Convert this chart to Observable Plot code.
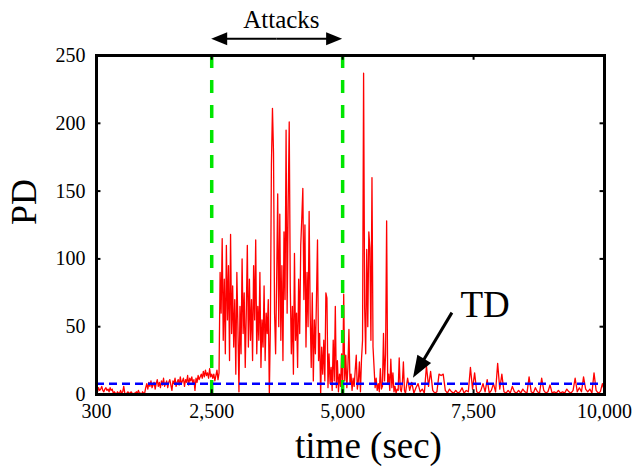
<!DOCTYPE html>
<html><head><meta charset="utf-8">
<script src="https://cdn.jsdelivr.net/npm/d3@7"></script>
<script src="https://cdn.jsdelivr.net/npm/@observablehq/plot@0.6"></script>
<style>body{margin:0;background:#fff}</style>
</head><body><div id="chart"></div>
<script>
// ---- data ----
const preStart = 300, preStep = 20;
const preValues = [4,2,5,3,4,6,3,2,4,5,3,4,2,5,3,4,
  1,2,1,0,2,1,1,3,1,2,6,1,0,1,2,1,1,2,1,0,1,1,2,1,3,1,1,0,2,1,1,
  5,8,4,9,6,10,5,7,9,4,8,11,6,9,5,10,7,12,6,8,10,5,9,11,7,3,10,8,12,6,
  9,11,7,13,8,10,12,6,11,9,14,7,12,10,13,8,11,3,12,9,14,11,13,
  15,12,17,13,18,14,16,12,19,13,15];
const attackStart = 2520, attackStep = 20;
const attackValues = [12,15,10,14,18,11,16,
  90,60,115,40,85,
  30,110,55,95,25,118,45,80,
  35,70,15,90,50,2,65,30,100,45,75,20,
  60,110,35,85,40,70,25,95,55,114,30,
  65,40,90,20,55,35,80,25,60,45,70,0,50,
  170,211,178,60,30,85,148,50,133,40,95,25,120,70,195,60,140,201,80,30,
  65,15,104,40,60,20,85,45,110,130,152,70,125,35,90,50,135,60,20,75,
  10,55,30,70,114,25,45,0,35,15,40,10,75,71,5,30,8,20,3,40,
  10,65,5,25,2,15,6,30,4];
const postStart = 5020, postStep = 20;
const postValues = [74,10,29,5,20,48,
  8,15,3,12,6,18,
  29,4,10,24,2,26,
  40,237,64,30,107,50,120,108,40,160,35,20,
  5,12,3,8,2,19,4,6,
  45,10,30,128,8,15,3,26,5,16,
  2,6,1,4,3,27,4,2,8,24,3,1];
const tailStart = 6240, tailStep = 40;
const tailValues = [12,3,9,1,5,8,2,4,1,21,6,17,3,1,2,15,14,15,3,1,
  4,2,1,3,1,2,5,1,3,2,20,4,16,2,1,3,8,2,11,1,
  3,8,2,23,4,15,2,1,3,1,6,2,1,3,1,4,2,1,13,2,
  1,5,2,1,12,3,1,2,7,1,2,1,3,1,2,1,4,2,1,3,
  12,2,5,2,13,4,2,4,1,16,3,1,2,8,2];

const xTicks = [300, 2500, 5000, 7500, 10000];
const yTicks = [0, 50, 100, 150, 200, 250];
const attackBounds = [2500, 5000];
const attackLabel = "Attacks";
const threshold = 8;      // TD
const tdLabel = "TD";
const tdArrow = [[7096, 60], [6352, 12]];
const tdText = [7249, 66];
const attackArrowY = 262;

const seg = (start, step, vals) => vals.map((v, i) => ({t: start + i * step, v}));
const series = [
  ...seg(preStart, preStep, preValues),
  ...seg(attackStart, attackStep, attackValues),
  ...seg(postStart, postStep, postValues),
  ...seg(tailStart, tailStep, tailValues)
];

const FONT = '"Liberation Serif","Times New Roman",Times,serif';

function drawArrow(g, x0, y0, x1, y1, head, hw, sw) {
  const dx = x1 - x0, dy = y1 - y0, L = Math.hypot(dx, dy);
  const ux = dx / L, uy = dy / L, nx = -uy, ny = ux;
  const bx = x1 - ux * head, by = y1 - uy * head;
  g.append("line").attr("x1", x0).attr("y1", y0).attr("x2", bx + ux).attr("y2", by + uy)
    .attr("stroke", "black").attr("stroke-width", sw);
  g.append("path").attr("d", `M${x1},${y1}L${bx + nx * hw},${by + ny * hw}L${bx - nx * hw},${by - ny * hw}Z`)
    .attr("fill", "black");
}

const attackArrow = (index, scales) => {
  const g = d3.create("svg:g");
  const xa = scales.x(attackBounds[0]), xb = scales.x(attackBounds[1]), y = scales.y(attackArrowY);
  const xm = (xa + xb) / 2;
  drawArrow(g, xm, y, xa, y, 16, 6.5, 2);
  drawArrow(g, xm, y, xb, y, 16, 6.5, 2);
  return g.node();
};
const tdArrowMark = (index, scales) => {
  const g = d3.create("svg:g");
  drawArrow(g, scales.x(tdArrow[0][0]), scales.y(tdArrow[0][1]),
    scales.x(tdArrow[1][0]), scales.y(tdArrow[1][1]), 22, 8, 3);
  return g.node();
};

const chart = Plot.plot({
  width: 634, height: 466,
  marginLeft: 96, marginRight: 30, marginTop: 55, marginBottom: 72,
  style: {fontFamily: FONT, fontSize: "20px", background: "white", color: "black"},
  x: {domain: [300, 10000], ticks: xTicks, tickFormat: d3.format(","), label: null},
  y: {domain: [0, 250], ticks: yTicks, label: null},
  marks: [
    Plot.axisX({ticks: xTicks, tickFormat: d3.format(","), tickSize: 0, tickPadding: 9, fontSize: 20, fontFamily: FONT, label: null}),
    Plot.axisY({ticks: yTicks, tickSize: 0, tickPadding: 11, fontSize: 20, fontFamily: FONT, label: null}),
    Plot.line(series, {x: "t", y: "v", stroke: "#ff0000", strokeWidth: 1.3}),
    Plot.ruleX(attackBounds, {stroke: "#00e600", strokeWidth: 3.5, strokeDasharray: "13,12"}),
    Plot.ruleY([threshold], {stroke: "#0000ff", strokeWidth: 2.5, strokeDasharray: "8,5"}),
    Plot.ruleX(xTicks, {y1: 0, y2: 3.5, stroke: "black", strokeWidth: 2}),
    Plot.ruleX(xTicks, {y1: 250, y2: 246.5, stroke: "black", strokeWidth: 2}),
    Plot.ruleY(yTicks, {x1: 300, x2: 385, stroke: "black", strokeWidth: 2}),
    Plot.ruleY(yTicks, {x1: 10000, x2: 9915, stroke: "black", strokeWidth: 2}),
    Plot.frame({stroke: "black", strokeWidth: 3}),
    attackArrow,
    Plot.text([attackLabel], {x: (attackBounds[0] + attackBounds[1]) / 2 + 80, y: attackArrowY, text: d => d, dy: -19, fontSize: 25, fontFamily: FONT, lineAnchor: "middle", fill: "black"}),
    tdArrowMark,
    Plot.text([tdLabel], {x: tdText[0], y: tdText[1], text: d => d, textAnchor: "start", lineAnchor: "middle", fontSize: 37, fontFamily: FONT, fill: "black"}),
    Plot.text(["PD"], {frameAnchor: "left", dx: -72, rotate: -90, text: d => d, fontSize: 36, fontFamily: FONT, lineAnchor: "middle", fill: "black"}),
    Plot.text(["time (sec)"], {frameAnchor: "bottom", dx: 18, dy: 52, text: d => d, fontSize: 37, fontFamily: FONT, lineAnchor: "middle", fill: "black"})
  ]
});
document.getElementById("chart").appendChild(chart);
</script>
</body></html>
